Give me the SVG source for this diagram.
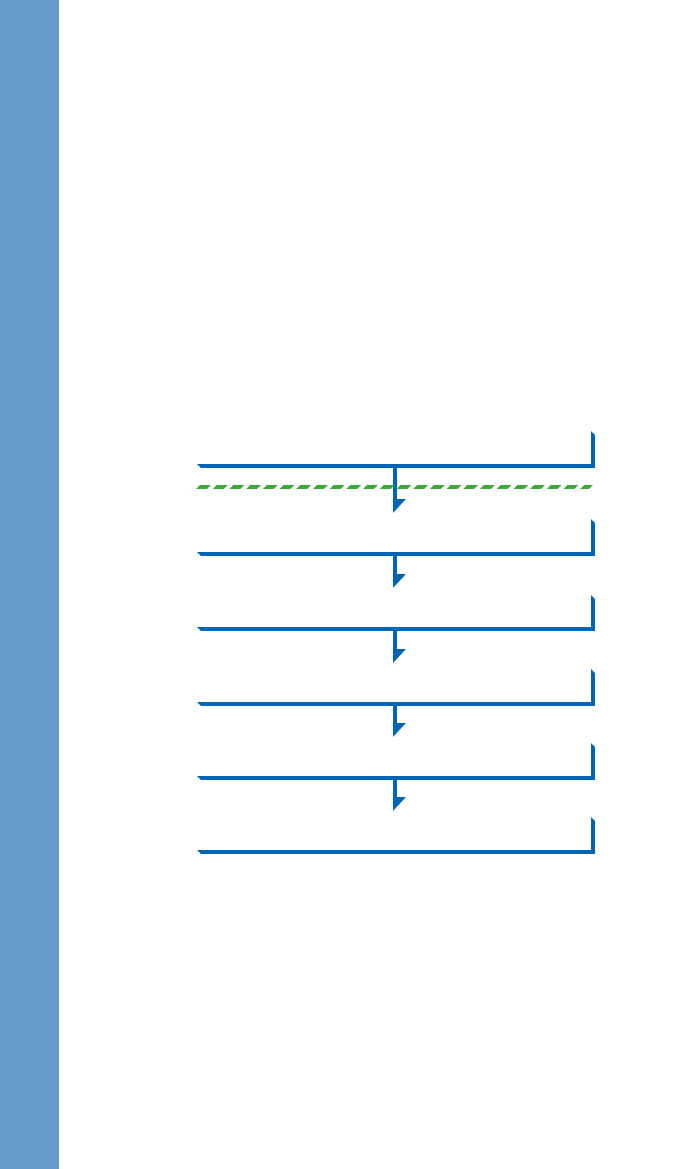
<svg xmlns="http://www.w3.org/2000/svg" width="673" height="1169" viewBox="0 0 673 1169">
<style>
.sh{fill:#0066b3}
.ar{fill:#0066b3}
.dash{stroke:#3aaa35;stroke-width:4;stroke-dasharray:11 5.7;fill:none}
</style>
<rect x="0" y="0" width="673" height="1169" fill="#ffffff"/>
<rect id="sidebar" x="0" y="0" width="59" height="1169" fill="#6699cc"/>
<g id="node1"><polygon class="sh" points="197,464 591,464 591,431 595,435 595,468 201,468"/></g>
<g id="node2"><polygon class="sh" points="197,552 591,552 591,519 595,523 595,556 201,556"/></g>
<g id="node3"><polygon class="sh" points="197,627 591,627 591,595 595,599 595,631 201,631"/></g>
<g id="node4"><polygon class="sh" points="197,702 591,702 591,669 595,673 595,706 201,706"/></g>
<g id="node5"><polygon class="sh" points="197,776 591,776 591,743 595,747 595,780 201,780"/></g>
<g id="node6"><polygon class="sh" points="197,850 591,850 591,817 595,821 595,854 201,854"/></g>
<g id="connectors">
<polygon class="ar" points="393,468 397,468 397,499 406,499 393,513"/>
<polygon class="ar" points="393,556 397,556 397,574 406,574 393,588"/>
<polygon class="ar" points="393,631 397,631 397,649 406,649 393,663"/>
<polygon class="ar" points="393,706 397,706 397,723 406,723 393,737"/>
<polygon class="ar" points="393,780 397,780 397,797 406,797 393,811"/>
</g>
<g id="separator"><g transform="translate(0,487) skewX(-45)"><line class="dash" x1="198" y1="0" x2="591" y2="0"/></g></g>
</svg>
